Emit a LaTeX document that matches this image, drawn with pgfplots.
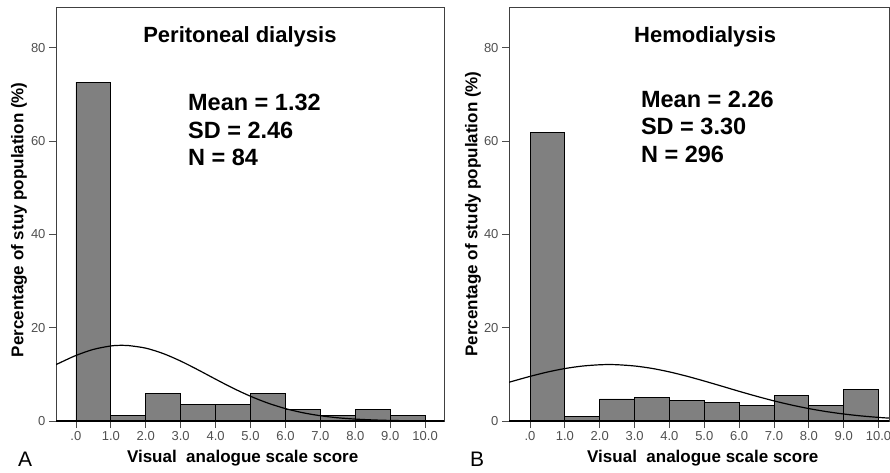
\documentclass[border=0pt]{standalone}
\usepackage{pgfplots}
\pgfplotsset{compat=1.18}
\usepackage{fontspec}
\setmainfont{Liberation Sans}

\definecolor{barfill}{RGB}{128,128,128}
\definecolor{tickgray}{RGB}{80,80,80}

\pgfplotsset{
  histo/.style={
    scale only axis, height=414pt,
    ymin=0, ymax=88.7,
    clip mode=individual,
    axis line style={draw=black!75, line width=0.8pt},
    tick pos=left, tick align=outside, major tick length=7pt,
    tick style={draw=black!70, line width=0.8pt},
    xtick={0,1,2,3,4,5,6,7,8,9,10},
    xticklabels={.0,1.0,2.0,3.0,4.0,5.0,6.0,7.0,8.0,9.0,10.0},
    ytick={0,20,40,60,80},
    ticklabel style={font=\fontsize{13}{15}\selectfont, text=tickgray},
    /pgf/number format/assume math mode=true,
  },
  bars/.style={ybar interval, fill=barfill, draw=black, line width=0.8pt},
  fit/.style={black, line width=1.2pt, smooth, mark=none},
}
\tikzset{
  ttl/.style={font=\fontsize{22}{26}\selectfont\bfseries, anchor=base},
  stat/.style={font=\fontsize{23.5}{28}\selectfont\bfseries, anchor=base west, inner sep=0pt},
  lbl/.style={font=\fontsize{17}{20}\selectfont\bfseries},
}

\begin{document}
\begin{tikzpicture}
\useasboundingbox (0,0) rectangle (890pt,472pt);

% A: peritoneal dialysis
\begin{axis}[histo, at={(56pt,51pt)}, anchor=south west, width=388pt,
  xmin=-0.57, xmax=10.54]
\addplot[bars] coordinates {(0,72.62) (1,1.19) (2,5.95) (3,3.57) (4,3.57)
  (5,5.95) (6,2.38) (7,1.19) (8,2.38) (9,1.19) (10,1.19)};
\addplot[fit] coordinates {(-0.57,12.07) (-0.5,12.33) (0,14.04) (0.5,15.34)
  (1,16.08) (1.32,16.22) (1.5,16.17) (2,15.61) (2.5,14.45) (3,12.84) (3.5,10.95)
  (4,8.96) (4.5,7.03) (5,5.30) (5.5,3.83) (6,2.66) (6.5,1.77) (7,1.13)
  (7.5,0.69) (8,0.41) (8.5,0.23) (9,0.12) (9.5,0.06) (10,0.03) (10.54,0.01)};
\draw[line width=1.6pt] (rel axis cs:0,0) -- (rel axis cs:1,0);
\node[ttl] at (rel axis cs:0.474,0.914) {Peritoneal dialysis};
\node[stat] at (rel axis cs:0.340,0.749) {Mean = 1.32};
\node[stat] at (rel axis cs:0.340,0.682) {SD = 2.46};
\node[stat] at (rel axis cs:0.340,0.616) {N = 84};
\node[lbl, anchor=base] at (rel axis cs:0.481,-0.101) {Visual\ \ analogue scale score};
\node[lbl, rotate=90] at (rel axis cs:-0.095,0.486) {Percentage of stuy population (\%)};
\end{axis}

% B: hemodialysis
\begin{axis}[histo, at={(509pt,51pt)}, anchor=south west, width=380pt,
  xmin=-0.603, xmax=10.30]
\addplot[bars] coordinates {(0,61.82) (1,1.01) (2,4.73) (3,5.07) (4,4.39)
  (5,4.05) (6,3.38) (7,5.41) (8,3.38) (9,6.76) (10,6.76)};
\addplot[fit] coordinates {(-0.603,8.30) (-0.5,8.52) (0,9.56) (0.5,10.49)
  (1,11.24) (1.5,11.77) (2,12.05) (2.26,12.09) (2.5,12.06) (3,11.79) (3.5,11.27)
  (4,10.52) (4.5,9.60) (5,8.56) (5.5,7.47) (6,6.36) (6.5,5.30) (7,4.31)
  (7.5,3.43) (8,2.66) (8.5,2.02) (9,1.50) (9.5,1.09) (10,0.77) (10.3,0.62)};
\draw[line width=1.6pt] (rel axis cs:0,0) -- (rel axis cs:1,0);
\node[ttl] at (rel axis cs:0.516,0.914) {Hemodialysis};
\node[stat] at (rel axis cs:0.347,0.758) {Mean = 2.26};
\node[stat] at (rel axis cs:0.347,0.691) {SD = 3.30};
\node[stat] at (rel axis cs:0.347,0.625) {N = 296};
\node[lbl, anchor=base] at (rel axis cs:0.510,-0.101) {Visual\ \ analogue scale score};
\node[lbl, rotate=90] at (rel axis cs:-0.095,0.500) {Percentage of study population (\%)};
\end{axis}

\node[font=\fontsize{21}{24}\selectfont, anchor=base west, inner sep=0pt] at (18pt,6pt) {A};
\node[font=\fontsize{21}{24}\selectfont, anchor=base west, inner sep=0pt] at (470pt,6pt) {B};
\end{tikzpicture}
\end{document}
